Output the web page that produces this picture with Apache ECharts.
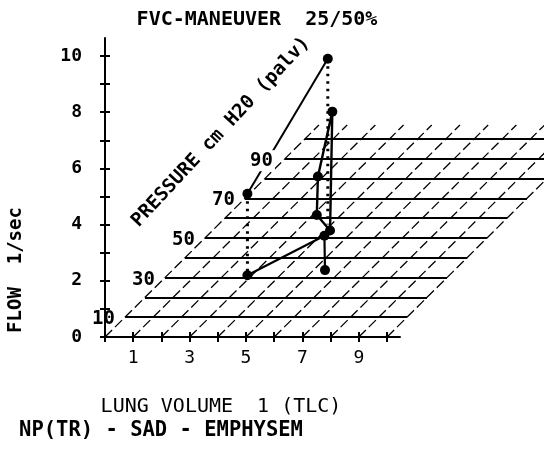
<!DOCTYPE html>
<html>
<head>
<meta charset="utf-8">
<script src="https://cdn.jsdelivr.net/npm/echarts@6/dist/echarts.min.js"></script>
<style>
  html, body { margin: 0; padding: 0; background: #fff; }
  #chart { width: 544px; height: 449px; }
</style>
</head>
<body>
<div id="chart"></div>
<script>
// ---- axis ticks / labels ----
const volumeTicks = [0, 1, 2, 3, 4, 5, 6, 7, 8, 9, 10];
const volumeLabels = [1, 3, 5, 7, 9];
const flowTicks = [0, 1, 2, 3, 4, 5, 6, 7, 8, 9, 10];
const flowLabels = [0, 2, 4, 6, 8, 10];
const pressureRows = [0, 10, 20, 30, 40, 50, 60, 70, 80, 90, 100];
const pressureLabels = [10, 30, 50, 70, 90];
const gridVolumes = [0, 1, 2, 3, 4, 5, 6, 7, 8, 9, 10];

// ---- data (lung volume l, flow l/sec) ----
const upperVolume = [5.05, 7.9];          // 70 point -> top point
const upperFlow = [5.1, 9.9];
const lowerVolume = [5.05, 7.78, 7.8];    // lower curve
const lowerFlow = [2.2, 3.6, 2.38];
const loopVolume = [8.06, 7.55, 7.51, 7.98, 8.06];
const loopFlow = [8.02, 5.71, 4.34, 3.79, 8.02];
const dropVolume = [7.9, 7.9];
const dropFlow = [9.9, 4.0];
const markVolume = [5.05, 7.9, 5.05, 7.78, 7.8, 8.06, 7.55, 7.51, 7.98];
const markFlow = [5.1, 9.9, 2.2, 3.6, 2.38, 8.02, 5.71, 4.34, 3.79];

// ---- oblique pressure axis projection (per cm H2O) ----
const PX = 0.0709;   // volume units per cm H2O
const PY = 0.0705;   // flow units per cm H2O
const P_TOP = 107;
const V_END = 10;

const FONT = 'DejaVu Sans Mono';
const zip = (a, b) => a.map((v, i) => [v, b[i]]);

const rowLines = pressureRows.map(p => ({ coords: [[p * PX, p * PY], [V_END + p * PX, p * PY]] }));
const diagLines = gridVolumes.map(v => ({ coords: [[v, 0], [v + P_TOP * PX, P_TOP * PY]] }));

const chart = echarts.init(document.getElementById('chart'), null, { renderer: 'canvas' });

const baseX = {
  type: 'value', min: 0, max: 10.46, position: 'bottom',
  splitLine: { show: false }
};
const baseY = {
  type: 'value', min: 0, max: 10.64, position: 'left',
  splitLine: { show: false }
};

chart.setOption({
  backgroundColor: '#fff',
  animation: false,
  grid: { left: 105, top: 38, right: 144, bottom: 112, containLabel: false },
  xAxis: [
    Object.assign({}, baseX, {
      axisLine: { show: true, lineStyle: { color: '#000', width: 2 } },
      axisTick: { show: true, inside: false, length: 5, customValues: volumeTicks, lineStyle: { color: '#000', width: 2 } },
      axisLabel: { show: true, customValues: volumeLabels, margin: 12, color: '#000', fontFamily: FONT, fontSize: 18 }
    }),
    Object.assign({}, baseX, {
      axisLine: { show: false },
      axisTick: { show: true, inside: true, length: 5, customValues: volumeTicks, lineStyle: { color: '#000', width: 2 } },
      axisLabel: { show: false }
    })
  ],
  yAxis: [
    Object.assign({}, baseY, {
      axisLine: { show: true, lineStyle: { color: '#000', width: 2 } },
      axisTick: { show: true, inside: false, length: 5, customValues: flowTicks, lineStyle: { color: '#000', width: 2 } },
      axisLabel: { show: true, customValues: flowLabels, margin: 23, color: '#000', fontFamily: FONT, fontSize: 18, fontWeight: 'bold' }
    }),
    Object.assign({}, baseY, {
      axisLine: { show: false },
      axisTick: { show: true, inside: true, length: 5, customValues: flowTicks, lineStyle: { color: '#000', width: 2 } },
      axisLabel: { show: false }
    })
  ],
  graphic: [
    { type: 'text', x: 257, y: 20, style: { text: 'FVC-MANEUVER  25/50%', fill: '#000', font: 'bold 20px "DejaVu Sans Mono"', align: 'center', verticalAlign: 'middle' } },
    { type: 'text', x: 221, y: 407, style: { text: 'LUNG VOLUME  1 (TLC)', fill: '#000', font: '20px "DejaVu Sans Mono"', align: 'center', verticalAlign: 'middle' } },
    { type: 'text', x: 161, y: 431, style: { text: 'NP(TR) - SAD - EMPHYSEM', fill: '#000', font: 'bold 20.5px "DejaVu Sans Mono"', align: 'center', verticalAlign: 'middle' } },
    { type: 'text', x: 16, y: 270, rotation: Math.PI / 2, style: { text: 'FLOW  1/sec', fill: '#000', font: 'bold 19px "DejaVu Sans Mono"', align: 'center', verticalAlign: 'middle' } },
    { type: 'text', x: 221, y: 132, rotation: 47 * Math.PI / 180, z: 10, style: { text: 'PRESSURE cm H20 (palv)', fill: '#000', font: 'bold 19px "DejaVu Sans Mono"', align: 'center', verticalAlign: 'middle' } }
  ],
  series: [
    { type: 'lines', coordinateSystem: 'cartesian2d', clip: false, silent: true, z: 2,
      lineStyle: { color: '#000', width: 1.8, type: 'solid', opacity: 1 }, data: rowLines },
    { type: 'lines', coordinateSystem: 'cartesian2d', clip: false, silent: true, z: 2,
      lineStyle: { color: '#000', width: 1.3, type: [10, 4], opacity: 1 }, data: diagLines },
    { type: 'line', clip: false, showSymbol: false, z: 3, lineStyle: { color: '#000', width: 2 }, data: zip(upperVolume, upperFlow) },
    { type: 'line', clip: false, showSymbol: false, z: 3, lineStyle: { color: '#000', width: 2.2 }, data: zip(lowerVolume, lowerFlow) },
    { type: 'line', clip: false, showSymbol: false, z: 3, lineStyle: { color: '#000', width: 2.4 }, data: zip(loopVolume, loopFlow) },
    { type: 'line', clip: false, showSymbol: false, z: 3, lineStyle: { color: '#000', width: 3, type: [2.5, 5] }, data: [[upperVolume[0], upperFlow[0]], [lowerVolume[0], lowerFlow[0]]] },
    { type: 'line', clip: false, showSymbol: false, z: 3, lineStyle: { color: '#000', width: 3, type: [2.5, 5] }, data: zip(dropVolume, dropFlow) },
    { type: 'scatter', clip: false, z: 4, symbol: 'circle', symbolSize: 10, itemStyle: { color: '#000', opacity: 1 }, data: zip(markVolume, markFlow) },
    { type: 'scatter', clip: false, z: 6, symbolSize: 0, silent: true, itemStyle: { opacity: 1 },
      label: { show: true, position: 'left', distance: 10, offset: [0, 2], color: '#000', opacity: 1, fontFamily: FONT, fontSize: 19, fontWeight: 'bold',
               formatter: p => String(p.data.name) },
      data: pressureLabels.map(p => ({
        name: p, value: [p * PX, p * PY],
        label: p === 90 ? { backgroundColor: '#fff', padding: [1, 2] } : {}
      })) }
  ]
});
</script>
</body>
</html>
